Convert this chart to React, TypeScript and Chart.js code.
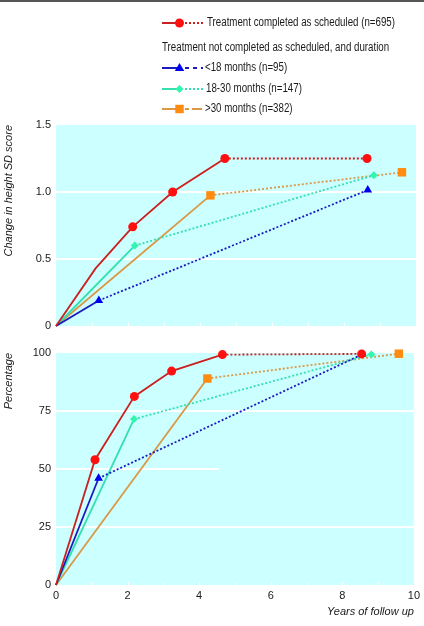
import React, { useEffect, useRef } from "react";
import { Chart, registerables } from "chart.js";

Chart.register(...registerables);

const FONT = '"Liberation Sans Narrow", "Liberation Sans", Arial, sans-serif';

// ---------- Data ----------
const seriesNames = [
  "Treatment completed as scheduled (n=695)",
  "<18 months (n=95)",
  "18-30 months (n=147)",
  ">30 months (n=382)",
];
const legendHeader = "Treatment not completed as scheduled, and duration";

// Top panel: change in height SD score
const sdCompletedYears = [0, 1.1, 2.13, 3.24, 4.69, 8.64];
const sdCompletedValues = [0, 0.43, 0.74, 1.0, 1.25, 1.25];
const sdUnder18Years = [0, 1.19, 8.66];
const sdUnder18Values = [0, 0.19, 1.015];
const sd18to30Years = [0, 2.19, 8.83];
const sd18to30Values = [0, 0.6, 1.125];
const sdOver30Years = [0, 4.29, 9.61];
const sdOver30Values = [0, 0.975, 1.147];

// Bottom panel: percentage
const pctCompletedYears = [0, 1.09, 2.19, 3.23, 4.65, 8.54];
const pctCompletedValues = [0, 54, 81.3, 92.2, 99.3, 99.6];
const pctUnder18Years = [0, 1.19, 8.54];
const pctUnder18Values = [0, 46, 99.3];
const pct18to30Years = [0, 2.18, 8.81];
const pct18to30Values = [0, 71.5, 99.4];
const pctOver30Years = [0, 4.23, 9.58];
const pctOver30Values = [0, 89, 99.7];

const sdTicks = [0, 0.5, 1.0, 1.5];
const pctTicks = [0, 25, 50, 75, 100];
const yearTicks = [0, 2, 4, 6, 8, 10];

// ---------- Styles ----------
const BG = "#CCFFFF";
const TEXT = "#1A1A1A";
const styles = [
  { line: "#CC2020", marker: "#FF1010", pointStyle: "circle", radius: 4.5 },
  { line: "#1A1AC0", marker: "#0000F0", pointStyle: "triangle", radius: 5 },
  { line: "#33E0B0", marker: "#33F5B0", pointStyle: "rectRot", radius: 4 },
  { line: "#D99845", marker: "#FF8C10", pointStyle: "rect", radius: 6 },
];

function makeDataset(i: number, xs: number[], ys: number[], solidUntil: number, hidden: number[] = []) {
  const st = styles[i];
  return {
    label: seriesNames[i],
    data: xs.map((x, k) => ({ x, y: ys[k] })),
    borderColor: st.line,
    backgroundColor: st.marker,
    pointBackgroundColor: st.marker,
    pointBorderColor: st.marker,
    pointStyle: st.pointStyle,
    pointRadius: xs.map((_, k) => (k === 0 || hidden.includes(k) ? 0 : st.radius)),
    pointBorderWidth: 0,
    borderWidth: 1.8,
    tension: 0,
    clip: false as any,
    segment: {
      borderDash: (ctx: any) => (ctx.p0DataIndex >= solidUntil ? [2, 2] : undefined),
    },
  };
}

const bgPlugin = {
  id: "bgPlugin",
  beforeDraw(chart: any) {
    const { ctx, chartArea: a } = chart;
    ctx.save();
    ctx.fillStyle = BG;
    ctx.fillRect(a.left, a.top, a.right - a.left, a.bottom - a.top);
    ctx.restore();
  },
};

function gridPlugin(lines: { v: number; endYear: number }[]) {
  return {
    id: "gridPlugin",
    beforeDatasetsDraw(chart: any) {
      const { ctx, chartArea: a, scales } = chart;
      ctx.save();
      ctx.strokeStyle = "#FFFFFF";
      ctx.lineWidth = 2;
      for (const g of lines) {
        const y = Math.round(scales.y.getPixelForValue(g.v));
        ctx.beginPath();
        ctx.moveTo(a.left, y);
        ctx.lineTo(scales.x.getPixelForValue(g.endYear), y);
        ctx.stroke();
      }
      ctx.lineWidth = 1;
      for (let v = 1; v < 10; v++) {
        const x = Math.round(scales.x.getPixelForValue(v)) + 0.5;
        ctx.beginPath();
        ctx.moveTo(x, a.bottom);
        ctx.lineTo(x, a.bottom - 3);
        ctx.stroke();
      }
      ctx.restore();
    },
  };
}

function drawMarker(ctx: CanvasRenderingContext2D, style: string, x: number, y: number, r: number, color: string) {
  ctx.save();
  ctx.fillStyle = color;
  ctx.beginPath();
  if (style === "circle") {
    ctx.arc(x, y, r, 0, Math.PI * 2);
  } else if (style === "triangle") {
    ctx.moveTo(x, y - r);
    ctx.lineTo(x + r * 0.95, y + r * 0.6);
    ctx.lineTo(x - r * 0.95, y + r * 0.6);
    ctx.closePath();
  } else if (style === "rectRot") {
    ctx.moveTo(x, y - r);
    ctx.lineTo(x + r, y);
    ctx.lineTo(x, y + r);
    ctx.lineTo(x - r, y);
    ctx.closePath();
  } else {
    const s = r * Math.SQRT1_2;
    ctx.rect(x - s, y - s, 2 * s, 2 * s);
  }
  ctx.fill();
  ctx.restore();
}

function narrowText(ctx: CanvasRenderingContext2D, text: string, x: number, y: number) {
  ctx.save();
  ctx.translate(x, y);
  ctx.scale(0.81, 1);
  ctx.fillText(text, 0, 0);
  ctx.restore();
}

const legendPlugin = {
  id: "legendPlugin",
  afterDraw(chart: any) {
    const ctx: CanvasRenderingContext2D = chart.ctx;
    ctx.save();
    ctx.font = "12px " + FONT;
    ctx.fillStyle = TEXT;
    ctx.textBaseline = "middle";
    const rows = [
      { i: 0, y: 23, dash: [2, 2], tx: 207 },
      { i: 1, y: 68, dash: [4, 4], tx: 205 },
      { i: 2, y: 89, dash: [2, 2], tx: 206 },
      { i: 3, y: 109, dash: [4, 3, 10, 3], tx: 205 },
    ];
    for (const r of rows) {
      const st = styles[r.i];
      ctx.strokeStyle = st.line;
      ctx.lineWidth = 2;
      ctx.setLineDash([]);
      ctx.beginPath();
      ctx.moveTo(162, r.y);
      ctx.lineTo(180, r.y);
      ctx.stroke();
      ctx.setLineDash(r.dash);
      ctx.beginPath();
      ctx.moveTo(185, r.y);
      ctx.lineTo(203, r.y);
      ctx.stroke();
      ctx.setLineDash([]);
      drawMarker(ctx, st.pointStyle, 179.5, r.y, st.radius, st.marker);
      ctx.fillStyle = TEXT;
      narrowText(ctx, seriesNames[r.i], r.tx, r.y);
    }
    narrowText(ctx, legendHeader, 162, 48);
    ctx.restore();
  },
};

function axisFont(italic = false) {
  return { family: FONT, size: 11, style: italic ? ("italic" as const) : ("normal" as const) };
}

export default function App() {
  const topRef = useRef<HTMLCanvasElement>(null);
  const botRef = useRef<HTMLCanvasElement>(null);

  useEffect(() => {
    Chart.defaults.font.family = FONT;
    Chart.defaults.color = TEXT;

    const top = new Chart(topRef.current!, {
      type: "line",
      data: {
        datasets: [
          makeDataset(0, sdCompletedYears, sdCompletedValues, 4, [1]),
          makeDataset(1, sdUnder18Years, sdUnder18Values, 1),
          makeDataset(2, sd18to30Years, sd18to30Values, 1),
          makeDataset(3, sdOver30Years, sdOver30Values, 1),
        ] as any,
      },
      options: {
        animation: false,
        responsive: false,
        layout: { padding: { top: 125, right: 8, left: 0, bottom: 0 } },
        plugins: { legend: { display: false }, tooltip: { enabled: false } },
        scales: {
          x: {
            type: "linear",
            min: 0,
            max: 10,
            ticks: { display: false, stepSize: 1 },
            grid: { display: false, drawTicks: false },
            border: { display: false },
            afterFit: (s: any) => {
              s.height = 14;
            },
          },
          y: {
            min: 0,
            max: 1.5,
            afterBuildTicks: (s: any) => {
              s.ticks = sdTicks.map((v) => ({ value: v }));
            },
            ticks: {
              font: axisFont(),
              padding: 5,
              callback: (v: any) => (v === 0 ? "0" : Number(v).toFixed(1)),
            },
            grid: { display: false, drawTicks: false },
            border: { display: false },
            title: {
              display: true,
              text: "Change in height SD score",
              align: "end",
              font: axisFont(true),
              padding: { top: 2, bottom: 0 },
            },
            afterFit: (s: any) => {
              s.width = 56;
            },
          },
        },
      } as any,
      plugins: [bgPlugin, gridPlugin([{ v: 0.5, endYear: 10 }, { v: 1.0, endYear: 10 }]), legendPlugin],
    });

    const bot = new Chart(botRef.current!, {
      type: "line",
      data: {
        datasets: [
          makeDataset(0, pctCompletedYears, pctCompletedValues, 4),
          makeDataset(1, pctUnder18Years, pctUnder18Values, 1),
          makeDataset(2, pct18to30Years, pct18to30Values, 1),
          makeDataset(3, pctOver30Years, pctOver30Values, 1),
        ] as any,
      },
      options: {
        animation: false,
        responsive: false,
        layout: { padding: { top: 13, right: 8, left: 0, bottom: 0 } },
        plugins: { legend: { display: false }, tooltip: { enabled: false } },
        scales: {
          x: {
            type: "linear",
            min: 0,
            max: 10,
            afterBuildTicks: (s: any) => {
              s.ticks = yearTicks.map((v) => ({ value: v }));
            },
            ticks: { font: axisFont(), padding: 4, maxRotation: 0, autoSkip: false },
            grid: { display: false, drawTicks: false },
            border: { display: false },
            title: {
              display: true,
              text: "Years of follow up",
              align: "end",
              font: axisFont(true),
              padding: { top: 0, bottom: 7 },
            },
            afterFit: (s: any) => {
              s.height = 41;
            },
          },
          y: {
            min: 0,
            max: 100,
            afterBuildTicks: (s: any) => {
              s.ticks = pctTicks.map((v) => ({ value: v }));
            },
            ticks: { font: axisFont(), padding: 5 },
            grid: { display: false, drawTicks: false },
            border: { display: false },
            title: {
              display: true,
              text: "Percentage",
              align: "end",
              font: axisFont(true),
              padding: { top: 2, bottom: 0 },
            },
            afterFit: (s: any) => {
              s.width = 56;
            },
          },
        },
      } as any,
      plugins: [
        bgPlugin,
        gridPlugin([
          { v: 25, endYear: 10 },
          { v: 50, endYear: 4.55 },
          { v: 75, endYear: 10 },
        ]),
      ],
    });

    return () => {
      top.destroy();
      bot.destroy();
    };
  }, []);

  return (
    <div style={{ position: "absolute", left: 0, top: 0, width: 424, height: 626, background: "#fff", overflow: "hidden" }}>
      <div style={{ position: "absolute", left: 0, top: 0, width: 424, height: 2, background: "#555" }} />
      <canvas ref={topRef} width={424} height={340} style={{ position: "absolute", left: 0, top: 0, width: 424, height: 340 }} />
      <canvas ref={botRef} width={424} height={286} style={{ position: "absolute", left: 0, top: 340, width: 424, height: 286 }} />
    </div>
  );
}
